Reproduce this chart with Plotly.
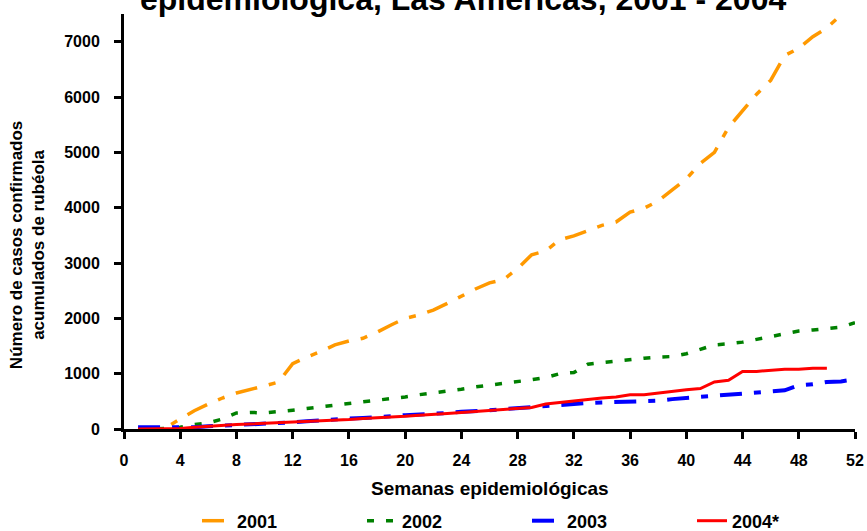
import plotly.graph_objects as go

weeks_2001 = list(range(1, 52))
cases_2001 = [0, 0, 30, 180, 330, 450, 560, 650, 710, 780, 850, 1180, 1300, 1400, 1520, 1590,
              1640, 1750, 1880, 2000, 2060, 2150, 2270, 2400, 2530, 2640, 2700, 2900, 3150, 3220,
              3420, 3490, 3580, 3680, 3740, 3920, 3990, 4120, 4320, 4520, 4800, 5000, 5450, 5760,
              6050, 6300, 6750, 6880, 7090, 7250, 7480]

weeks_2002 = list(range(1, 53))
cases_2002 = [0, 0, 10, 30, 80, 110, 180, 290, 300, 290, 310, 340, 370, 400, 420, 450,
              480, 520, 550, 580, 620, 650, 690, 720, 760, 790, 820, 860, 890, 930,
              1000, 1020, 1170, 1200, 1230, 1250, 1280, 1300, 1310, 1360, 1440, 1520, 1540, 1570,
              1620, 1670, 1720, 1770, 1790, 1810, 1840, 1920]

weeks_2003 = list(range(1, 53))
cases_2003 = [30, 30, 20, 20, 30, 50, 60, 80, 90, 100, 100, 120, 140, 160, 180, 190,
              200, 210, 230, 250, 260, 270, 290, 310, 320, 340, 360, 380, 390, 410,
              430, 460, 470, 480, 490, 500, 500, 510, 540, 560, 580, 600, 620, 640,
              670, 690, 700, 790, 810, 850, 860, 900]

weeks_2004 = list(range(1, 51))
cases_2004 = [0, 0, 0, 10, 30, 50, 60, 80, 90, 100, 110, 120, 130, 140, 160, 170,
              190, 200, 220, 230, 250, 260, 280, 300, 320, 330, 350, 370, 390, 450,
              480, 510, 540, 560, 580, 620, 620, 650, 690, 710, 730, 850, 880, 1040,
              1040, 1060, 1080, 1080, 1100, 1100]

x_ticks = list(range(0, 53, 4))
y_ticks = list(range(0, 7001, 1000))

FONT = "Liberation Sans, Arial, sans-serif"

W, H = 867, 531

fig = go.Figure()
fig.add_trace(go.Scatter(x=weeks_2001, y=cases_2001, mode="lines", name="2001",
                         line=dict(color="#FF9900", width=3.5, dash="22px,12px,7px,12px")))
fig.add_trace(go.Scatter(x=weeks_2002, y=cases_2002, mode="lines", name="2002",
                         line=dict(color="#008000", width=3.5, dash="7px,12px")))
fig.add_trace(go.Scatter(x=weeks_2003, y=cases_2003, mode="lines", name="2003",
                         line=dict(color="#0000FF", width=4, dash="22px,12px,7px,12px")))
fig.add_trace(go.Scatter(x=weeks_2004, y=cases_2004, mode="lines", name="2004*",
                         line=dict(color="#FF0000", width=3)))

fig.update_layout(
    width=W, height=H,
    margin=dict(l=124, r=12, t=14, b=102, autoexpand=False),
    paper_bgcolor="white", plot_bgcolor="white",
    font=dict(family=FONT, color="black", size=16),
    showlegend=True,
    legend=dict(orientation="h", xref="container", x=197 / W, xanchor="left",
                yref="container", y=(H - 521) / H, yanchor="middle",
                entrywidth=120, entrywidthmode="pixels",
                font=dict(family=FONT, size=18, color="black", weight="bold"),
                bgcolor="rgba(0,0,0,0)"),
    xaxis=dict(range=[0, 52], tickvals=x_ticks, ticks="outside", ticklen=7, tickwidth=2.5,
               tickcolor="black", showline=True, linecolor="black", linewidth=3,
               showgrid=False, zeroline=False, ticklabelstandoff=8, automargin=False,
               ticklabeloverflow="allow",
               tickfont=dict(family=FONT, size=16, weight="bold")),
    yaxis=dict(range=[0, 7500], tickvals=y_ticks, ticks="outside", ticklen=7, tickwidth=2.5,
               tickcolor="black", showline=True, linecolor="black", linewidth=3,
               showgrid=False, zeroline=False, ticklabelstandoff=11, automargin=False,
               tickfont=dict(family=FONT, size=16, weight="bold")),
    annotations=[
        dict(text="Número de casos confirmados<br>acumulados de rubéola", xref="paper", yref="paper",
             x=-0.1327, y=0.443, xanchor="center", yanchor="middle", textangle=-90,
             showarrow=False, font=dict(family=FONT, size=17, weight="bold")),
        dict(text="Semanas epidemiológicas", xref="paper", yref="paper",
             x=0.5007, y=(429 - 488) / 415, xanchor="center", yanchor="middle",
             showarrow=False, font=dict(family=FONT, size=19, weight="bold")),
        dict(text="epidemiológica, Las Américas, 2001 - 2004", xref="paper", yref="paper",
             x=(463 - 124) / 731, y=1.0355, xanchor="center", yanchor="middle",
             showarrow=False, font=dict(family=FONT, size=32, weight="bold")),
    ],
)

fig.write_html("out.html", config={"displayModeBar": False},
               post_script="document.body.style.margin='0';document.body.style.overflow='hidden';")
